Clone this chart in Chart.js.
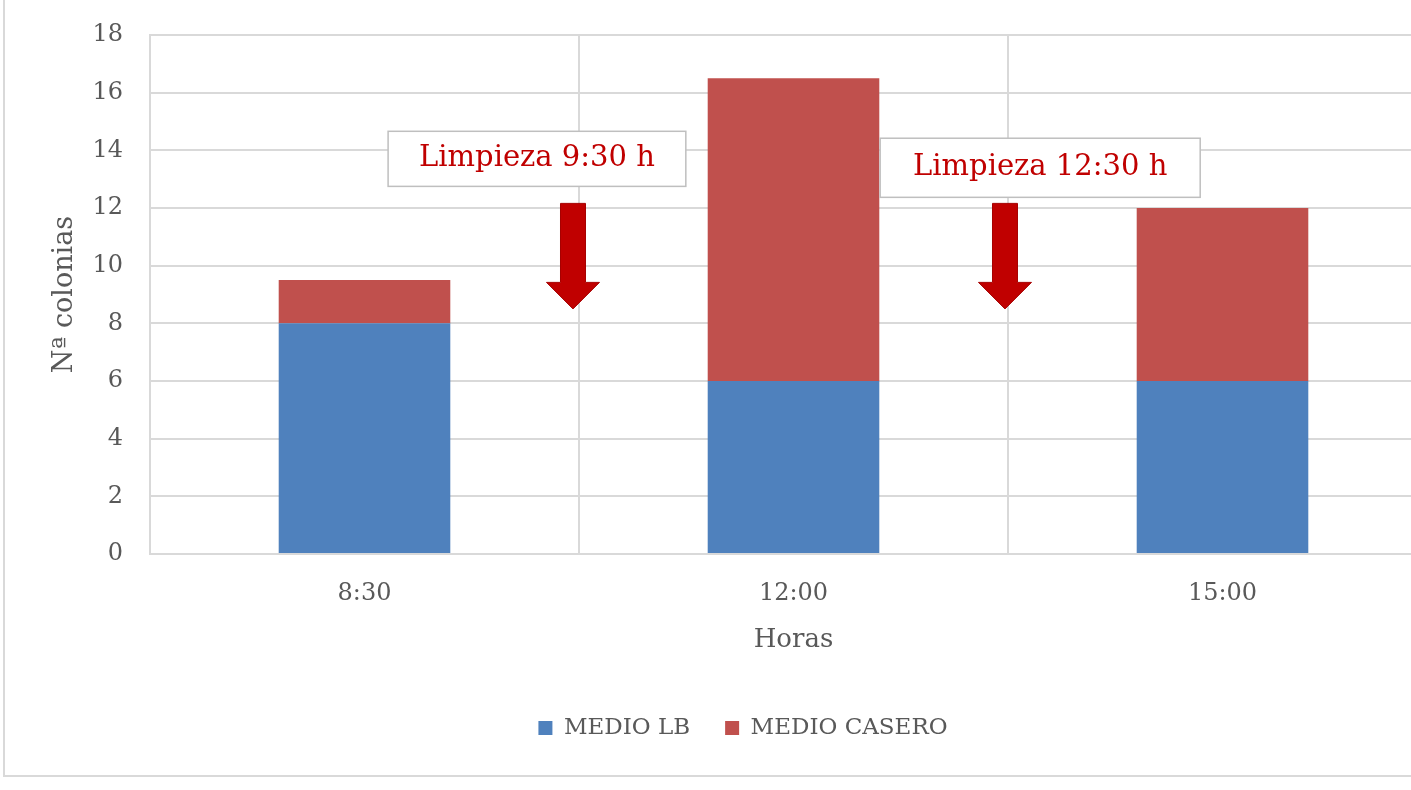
<!DOCTYPE html>
<html lang="es">
<head>
<meta charset="utf-8">
<title>Nª colonias por hora</title>
<script src="https://cdn.jsdelivr.net/npm/chart.js@4.4.1/dist/chart.umd.min.js"></script>
<style>
  html, body { margin: 0; padding: 0; background: #ffffff; overflow: hidden; }
  #wrap { position: absolute; left: 0; top: 0; width: 1486px; height: 790px; }
</style>
</head>
<body>
<div id="wrap"><canvas id="grafico" width="1486" height="790"></canvas></div>
<script>
// Datos
const horas = ['8:30', '12:00', '15:00'];
const medioLB = [8, 6, 6];
const medioCasero = [1.5, 10.5, 6];
const yTicks = [0, 2, 4, 6, 8, 10, 12, 14, 16, 18];

// Rótulos de limpieza (posiciones en unidades de los ejes)
const limpiezas = [
  { texto: 'Limpieza 9:30 h',  caja: [0.055, 0.749, 14.66, 12.75], flecha: { x: 0.486, arriba: 12.16, cabeza: 9.42, punta: 8.5 } },
  { texto: 'Limpieza 12:30 h', caja: [1.202, 1.948, 14.42, 12.37], flecha: { x: 1.493, arriba: 12.16, cabeza: 9.42, punta: 8.5 } }
];

const FUENTE = "'DejaVu Serif', serif";
const GRIS_TEXTO = '#595959';
const GRIS_REJILLA = '#D9D9D9';
const ROJO = '#C00000';

const marcoExterior = {
  id: 'marcoExterior',
  beforeDraw(chart) {
    const ctx = chart.ctx;
    ctx.save();
    ctx.fillStyle = '#ffffff';
    ctx.fillRect(0, 0, chart.width, chart.height);
    ctx.strokeStyle = GRIS_REJILLA;
    ctx.lineWidth = 2;
    ctx.strokeRect(4, -20, chart.width + 40, 796);
    ctx.restore();
  }
};

const rotulosLimpieza = {
  id: 'rotulosLimpieza',
  afterDatasetsDraw(chart) {
    const ctx = chart.ctx;
    const xs = chart.scales.x, ys = chart.scales.y;
    ctx.save();
    limpiezas.forEach(l => {
      const [x0, x1, yTop, yBot] = l.caja;
      const L = xs.getPixelForValue(x0), R = xs.getPixelForValue(x1);
      const T = ys.getPixelForValue(yTop), B = ys.getPixelForValue(yBot);
      ctx.fillStyle = '#ffffff';
      ctx.fillRect(L, T, R - L, B - T);
      ctx.strokeStyle = '#BFBFBF';
      ctx.lineWidth = 1.5;
      ctx.strokeRect(L, T, R - L, B - T);
      ctx.fillStyle = ROJO;
      ctx.font = "29px " + FUENTE;
      ctx.textAlign = 'center';
      ctx.textBaseline = 'middle';
      ctx.fillText(l.texto, (L + R) / 2, (T + B) / 2);

      const f = l.flecha;
      const cx = xs.getPixelForValue(f.x);
      const top = ys.getPixelForValue(f.arriba);
      const neck = ys.getPixelForValue(f.cabeza);
      const tip = ys.getPixelForValue(f.punta);
      const shaft = 12.5, head = 26.5;
      ctx.beginPath();
      ctx.moveTo(cx - shaft, top);
      ctx.lineTo(cx + shaft, top);
      ctx.lineTo(cx + shaft, neck);
      ctx.lineTo(cx + head, neck);
      ctx.lineTo(cx, tip);
      ctx.lineTo(cx - head, neck);
      ctx.lineTo(cx - shaft, neck);
      ctx.closePath();
      ctx.fillStyle = ROJO;
      ctx.fill();
      ctx.strokeStyle = '#A50000';
      ctx.lineWidth = 1;
      ctx.stroke();
    });
    ctx.restore();
  }
};

new Chart(document.getElementById('grafico'), {
  type: 'bar',
  data: {
    labels: horas,
    datasets: [
      { label: 'MEDIO LB', data: medioLB, backgroundColor: '#4F81BD', borderWidth: 0 },
      { label: 'MEDIO CASERO', data: medioCasero, backgroundColor: '#C0504D', borderWidth: 0 }
    ]
  },
  options: {
    responsive: false,
    animation: false,
    devicePixelRatio: 1,
    layout: { padding: { left: 0, right: 0, top: 35, bottom: 40.5 } },
    datasets: { bar: { categoryPercentage: 1, barPercentage: 0.4 } },
    scales: {
      x: {
        stacked: true,
        grid: { color: GRIS_REJILLA, lineWidth: 2, drawTicks: false, offset: true },
        border: { color: GRIS_REJILLA, width: 2 },
        ticks: { color: GRIS_TEXTO, font: { family: FUENTE, size: 24 }, padding: 25 },
        title: { display: true, text: 'Horas', color: GRIS_TEXTO, font: { family: FUENTE, size: 26 }, padding: { top: 0, bottom: 25.5 } },
        afterFit(s) { s.height = 127.5; }
      },
      y: {
        stacked: true,
        min: 0, max: 18,
        afterBuildTicks(s) { s.ticks = yTicks.map(v => ({ value: v })); },
        grid: { color: GRIS_REJILLA, lineWidth: 2, drawTicks: false },
        border: { color: GRIS_REJILLA, width: 2 },
        ticks: { color: GRIS_TEXTO, font: { family: FUENTE, size: 24 }, padding: 27 },
        title: { display: true, text: 'Nª colonias', color: GRIS_TEXTO, font: { family: FUENTE, size: 27 }, padding: { top: 49, bottom: 0 } },
        afterFit(s) { s.width = 150; s.paddingTop = 0; s.paddingBottom = 0; }
      },
      // margen derecho del área de trazado
      margen: {
        type: 'linear',
        position: 'right',
        grid: { display: false },
        border: { display: false },
        ticks: { display: false },
        afterFit(s) { s.width = 49; s.paddingTop = 0; s.paddingBottom = 0; }
      }
    },
    plugins: {
      legend: {
        position: 'bottom',
        labels: { color: GRIS_TEXTO, font: { family: FUENTE, size: 23 }, boxWidth: 14, boxHeight: 14, padding: 35 }
      },
      tooltip: { enabled: false }
    }
  },
  plugins: [marcoExterior, rotulosLimpieza]
});
</script>
</body>
</html>
